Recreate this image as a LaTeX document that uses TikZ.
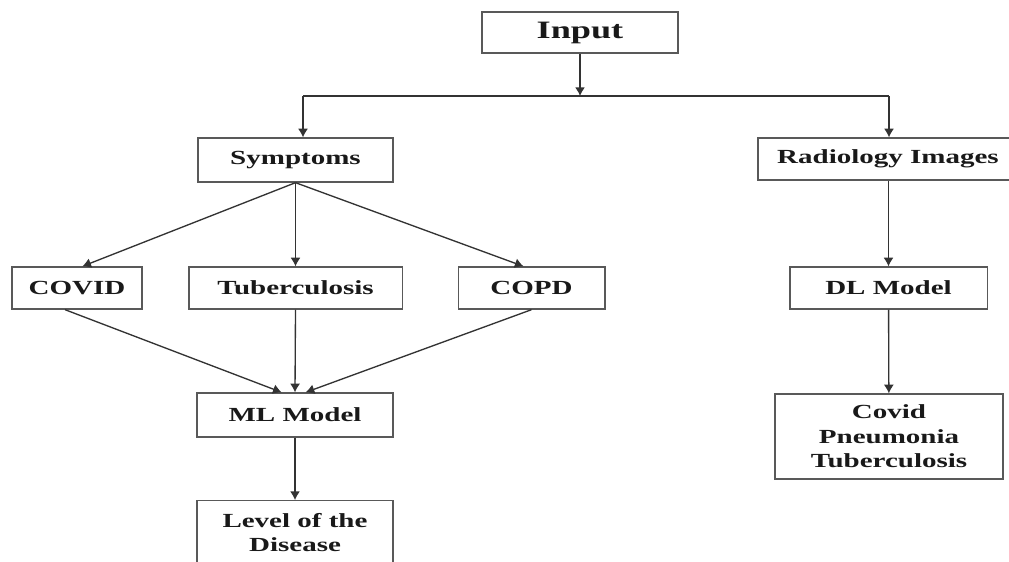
\documentclass[tikz,border=0pt]{standalone}
\usepackage{fontspec}
\newfontfamily\boxfont{Liberation Serif}[FakeStretch=1.45]
\usepackage{tikz}
\usetikzlibrary{arrows.meta}

\begin{document}
\begin{tikzpicture}[x=0.75pt, y=-0.75pt,
    box_node/.style={draw=black!65, line width=1pt, inner sep=0, minimum height=31.5pt, align=center, text=black!90, font=\boxfont\bfseries\fontsize{15}{18.5}\selectfont},
    flow/.style={-{Latex[length=6.5pt,width=7.5pt]}, draw=black!80, line width=1pt}]
    \useasboundingbox[fill=white] (0,0) rectangle (1009,561);
    \node[box_node, minimum width=147pt, minimum height=30.75pt, font=\boxfont\bfseries\fontsize{18.75}{22}\selectfont] (input) at (580, 32.5) {Input};
    \node[box_node, minimum width=146.25pt, minimum height=33pt] (symp) at (295.5, 160) {Symptoms};
    \node[box_node, minimum width=195pt] (radio) at (888, 159) {Radiology Images};
    \node[box_node, minimum width=97.5pt] (covid) at (77, 288) {COVID};
    \node[box_node, minimum width=160pt] (tb) at (295.5, 288) {Tuberculosis};
    \node[box_node, minimum width=110pt] (copd) at (531.5, 288) {COPD};
    \node[box_node, minimum width=148pt] (dl) at (888.5, 288) {DL Model};
    \node[box_node, minimum width=147pt, minimum height=33pt] (ml) at (295, 415) {ML Model};
    \node[box_node, minimum width=171pt, minimum height=63.75pt] (out) at (889, 436.5) {Covid\\Pneumonia\\Tuberculosis};
    \node[box_node, minimum width=147pt, minimum height=48pt, anchor=north] (level) at (295, 500) {Level of the\\Disease};
    % split under Input
    \coordinate (split) at (580, 96);
    \coordinate (lturn) at (303, 96);
    \coordinate (rturn) at (889, 96);
    \draw[flow] (input) -- (split);
    \draw[draw=black!80, line width=1pt] (lturn) -- (rturn);
    \draw[flow] (lturn) -- (lturn |- symp.north);
    \draw[flow] (rturn) -- (rturn |- radio.north);
    \draw[flow] (symp.south) -- ([xshift=4pt]covid.north);
    \draw[flow] (symp.south) -- (tb.north);
    \draw[flow] (symp.south) -- ([xshift=-6pt]copd.north);
    \draw[flow] ([xshift=-9pt]covid.south) -- ([xshift=-10pt]ml.north);
    \draw[flow] (tb.south) -- (ml.north);
    \draw[flow] (copd.south) -- ([xshift=8pt]ml.north);
    \draw[flow] (ml) -- (level);
    \draw[flow] (radio.south -| dl.north) -- (dl.north);
    \draw[flow] (dl) -- (out);
\end{tikzpicture}
\end{document}
